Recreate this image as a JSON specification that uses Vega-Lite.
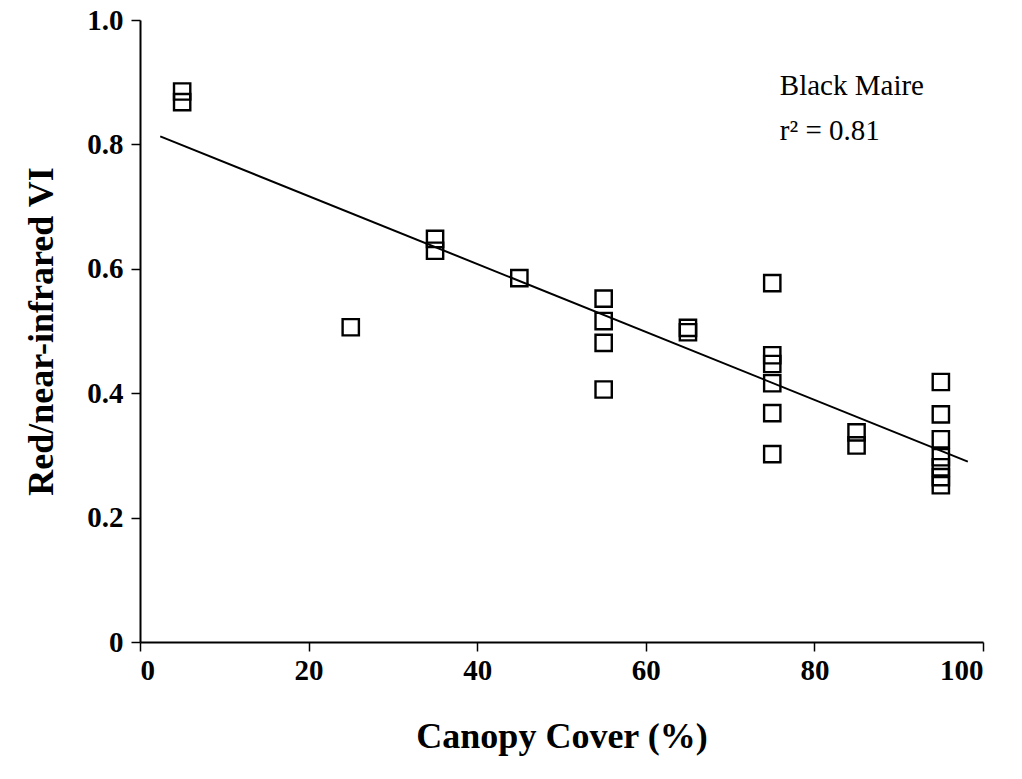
{
  "$schema": "https://vega.github.io/schema/vega-lite/v6.json",
  "autosize": "none",
  "width": 843,
  "height": 622,
  "padding": {"left": 140, "top": 20, "right": 39, "bottom": 137},
  "background": "white",
  "config": {
    "view": {"stroke": null},
    "font": "Liberation Serif",
    "axis": {
      "grid": false,
      "domainColor": "black",
      "domainWidth": 2,
      "tickColor": "black",
      "tickWidth": 1.5,
      "tickSize": 9,
      "labelFont": "Liberation Serif",
      "labelFontWeight": "bold",
      "labelFontSize": 29,
      "labelColor": "black",
      "titleFont": "Liberation Serif",
      "titleFontWeight": "bold",
      "titleFontSize": 36,
      "titleColor": "black"
    }
  },
  "datasets": {
    "pts": [
      {"cover": 5, "vi": 0.885}, {"cover": 5, "vi": 0.868},
      {"cover": 25, "vi": 0.506},
      {"cover": 35, "vi": 0.648}, {"cover": 35, "vi": 0.629},
      {"cover": 45, "vi": 0.585},
      {"cover": 55, "vi": 0.552}, {"cover": 55, "vi": 0.516}, {"cover": 55, "vi": 0.481}, {"cover": 55, "vi": 0.406},
      {"cover": 65, "vi": 0.505}, {"cover": 65, "vi": 0.498},
      {"cover": 75, "vi": 0.577}, {"cover": 75, "vi": 0.461}, {"cover": 75, "vi": 0.447}, {"cover": 75, "vi": 0.416}, {"cover": 75, "vi": 0.368}, {"cover": 75, "vi": 0.302},
      {"cover": 85, "vi": 0.337}, {"cover": 85, "vi": 0.316},
      {"cover": 95, "vi": 0.418}, {"cover": 95, "vi": 0.366}, {"cover": 95, "vi": 0.326}, {"cover": 95, "vi": 0.297}, {"cover": 95, "vi": 0.281}, {"cover": 95, "vi": 0.265}, {"cover": 95, "vi": 0.252}
    ],
    "fit": [
      {"cover": 2.4, "vi": 0.813},
      {"cover": 98.2, "vi": 0.290}
    ],
    "notes": [
      {"cover": 75.9, "vi": 0.894, "label": "Black Maire"},
      {"cover": 75.9, "vi": 0.822, "label": "r² = 0.81"}
    ]
  },
  "layer": [
    {
      "data": {"name": "pts"},
      "mark": {"type": "point", "shape": "square", "size": 265, "filled": false, "stroke": "black", "strokeWidth": 2.4, "opacity": 1},
      "encoding": {
        "x": {
          "field": "cover", "type": "quantitative",
          "scale": {"domain": [0, 100], "nice": false, "zero": false},
          "axis": {"values": [0, 20, 40, 60, 80, 100], "title": "Canopy Cover (%)", "labelPadding": 5, "titlePadding": 34}
        },
        "y": {
          "field": "vi", "type": "quantitative",
          "scale": {"domain": [0, 1], "nice": false},
          "axis": {"values": [0, 0.2, 0.4, 0.6, 0.8, 1.0], "labelExpr": "datum.value == 0 ? '0' : format(datum.value, '.1f')", "title": "Red/near-infrared VI", "labelPadding": 8, "titlePadding": 26}
        }
      }
    },
    {
      "data": {"name": "fit"},
      "mark": {"type": "line", "color": "black", "strokeWidth": 2},
      "encoding": {
        "x": {"field": "cover", "type": "quantitative"},
        "y": {"field": "vi", "type": "quantitative"}
      }
    },
    {
      "data": {"name": "notes"},
      "mark": {"type": "text", "align": "left", "baseline": "middle", "font": "Liberation Serif", "fontSize": 29, "color": "black"},
      "encoding": {
        "x": {"field": "cover", "type": "quantitative"},
        "y": {"field": "vi", "type": "quantitative"},
        "text": {"field": "label"}
      }
    }
  ]
}
